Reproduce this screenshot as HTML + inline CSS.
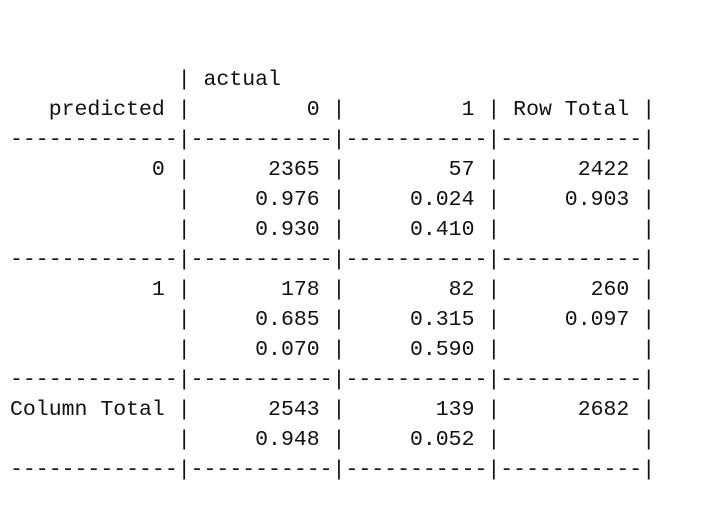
<!DOCTYPE html>
<html>
<head>
<meta charset="utf-8">
<style>
  html,body{margin:0;padding:0;background:#fff;width:702px;height:512px;overflow:hidden;}
  pre{position:absolute;left:10px;top:65px;margin:0;
      font-family:"Liberation Mono","DejaVu Sans Mono",monospace;
      font-size:21.5px;line-height:30px;color:#111;}
</style>
</head>
<body>
<pre><span>             | actual</span>
<span>   predicted |         0 |         1 | Row Total |</span>
-------------|-----------|-----------|-----------|
<span>           0 |      2365 |        57 |      2422 |</span>
<span>             |     0.976 |     0.024 |     0.903 |</span>
<span>             |     0.930 |     0.410 |           |</span>
-------------|-----------|-----------|-----------|
<span>           1 |       178 |        82 |       260 |</span>
<span>             |     0.685 |     0.315 |     0.097 |</span>
<span>             |     0.070 |     0.590 |           |</span>
-------------|-----------|-----------|-----------|
<span>Column Total |      2543 |       139 |      2682 |</span>
<span>             |     0.948 |     0.052 |           |</span>
-------------|-----------|-----------|-----------|</pre>
</body>
</html>
